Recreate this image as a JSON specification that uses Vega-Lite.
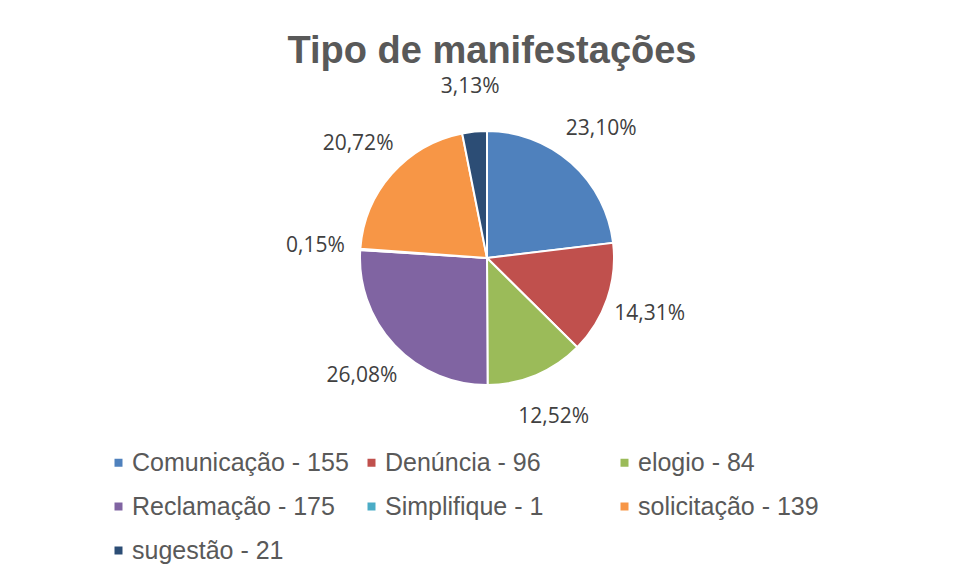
{
  "$schema": "https://vega.github.io/schema/vega-lite/v6.json",
  "width": 974,
  "height": 356,
  "autosize": "none",
  "padding": {"left": 0, "top": 80, "right": 0, "bottom": 144},
  "background": "white",
  "title": {
    "text": "Tipo de manifestações",
    "font": "Liberation Sans",
    "fontSize": 38,
    "fontWeight": "bold",
    "color": "#595959",
    "anchor": "middle",
    "dx": 5,
    "offset": 5
  },
  "data": {
    "values": [
      {"tipo": "Comunicação - 155", "qtd": 155, "pct": "23,10%", "ordem": 1},
      {"tipo": "Denúncia - 96", "qtd": 96, "pct": "14,31%", "ordem": 2},
      {"tipo": "elogio - 84", "qtd": 84, "pct": "12,52%", "ordem": 3},
      {"tipo": "Reclamação - 175", "qtd": 175, "pct": "26,08%", "ordem": 4},
      {"tipo": "Simplifique - 1", "qtd": 1, "pct": "0,15%", "ordem": 5},
      {"tipo": "solicitação - 139", "qtd": 139, "pct": "20,72%", "ordem": 6},
      {"tipo": "sugestão - 21", "qtd": 21, "pct": "3,13%", "ordem": 7}
    ]
  },
  "encoding": {
    "theta": {"field": "qtd", "type": "quantitative", "stack": true},
    "order": {"field": "ordem", "type": "quantitative"}
  },
  "layer": [
    {
      "mark": {"type": "arc", "outerRadius": 127, "stroke": "white", "strokeWidth": 2},
      "encoding": {
        "color": {
          "field": "tipo",
          "type": "nominal",
          "scale": {
            "domain": ["Comunicação - 155", "Denúncia - 96", "elogio - 84", "Reclamação - 175", "Simplifique - 1", "solicitação - 139", "sugestão - 21"],
            "range": ["#4F81BD", "#C0504D", "#9BBB59", "#8064A2", "#4BACC6", "#F79646", "#2C4D75"]
          },
          "legend": {
            "title": null,
            "orient": "none",
            "direction": "horizontal",
            "legendX": 106,
            "legendY": 370,
            "columns": 3,
            "gridAlign": "all",
            "columnPadding": 10,
            "rowPadding": 18,
            "symbolType": "square",
            "symbolSize": 64,
            "symbolStrokeWidth": 0,
            "labelFont": "Liberation Sans",
            "labelFontSize": 25,
            "labelColor": "#595959",
            "labelLimit": 400,
            "labelOffset": 1,
            "padding": 0
          }
        }
      }
    },
    {
      "mark": {"type": "text", "radius": 172, "font": "Open Sans", "fontSize": 21, "color": "#404040"},
      "encoding": {
        "text": {"field": "pct", "type": "nominal"}
      }
    }
  ],
  "config": {"view": {"stroke": null}}
}
